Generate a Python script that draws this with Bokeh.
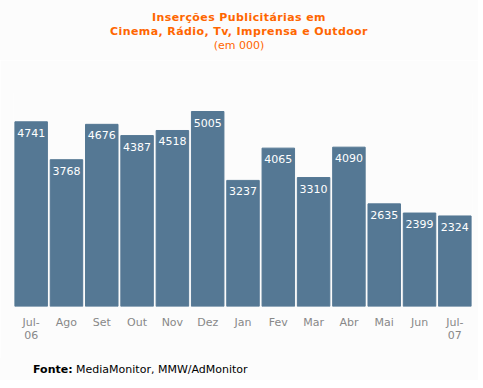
from bokeh.plotting import figure
from bokeh.models import FactorRange, Div
from bokeh.layouts import column
from bokeh.core.properties import value
from bokeh.embed import file_html
from bokeh.resources import INLINE

months = ["Jul-\n06", "Ago", "Set", "Out", "Nov", "Dez", "Jan", "Fev", "Mar", "Abr", "Mai", "Jun", "Jul-\n07"]
insercoes = [4741, 3768, 4676, 4387, 4518, 5005, 3237, 4065, 3310, 4090, 2635, 2399, 2324]
labels = [str(v) for v in insercoes]

title_lines = ["Inserções Publicitárias em", "Cinema, Rádio, Tv, Imprensa e Outdoor", "(em 000)"]
fonte_bold = "Fonte:"
fonte_text = "MediaMonitor, MMW/AdMonitor"

BG = "#fcfcfc"
BAR = "#557894"
ORANGE = "#ff6600"
FONT = "DejaVu Sans"
W = 478

header = Div(
    text=(f'<div style="width:{W - 10}px;padding:11px 0 0 10px;font-family:\'{FONT}\';font-size:11px;'
          f'line-height:14px;color:{ORANGE};text-align:center;">'
          f'<b style="letter-spacing:0.4px">{title_lines[0]}</b><br>'
          f'<b style="letter-spacing:0.4px">{title_lines[1]}</b><br>{title_lines[2]}</div>'),
    width=W, height=60, margin=(0, 0, 0, 0),
    styles={"background-color": BG})

p = figure(x_range=FactorRange(*months, range_padding=0), y_range=(0, 5493),
           width=W, height=298, output_backend="svg", toolbar_location=None,
           y_axis_location=None, min_border_left=13, min_border_right=6,
           min_border_top=32, min_border_bottom=52, margin=(0, 0, 0, 0))
p.background_fill_color = BG
p.border_fill_color = BG
p.outline_line_color = None
p.grid.visible = False

p.vbar(x=months, top=insercoes, width=0.92, color=BAR)
p.text(x=months, y=insercoes, text=labels, text_color="white", text_font=value(FONT),
       text_font_size="11px", text_align="center", text_baseline="middle", y_offset=11)

ax = p.xaxis[0]
ax.axis_line_color = None
ax.major_tick_line_color = None
ax.minor_tick_line_color = None
ax.major_label_text_color = "#888888"
ax.major_label_text_font = FONT
ax.major_label_text_font_size = "11px"
ax.major_label_text_line_height = 1.0
ax.major_label_standoff = 3

footer = Div(
    text=(f'<div style="padding:5px 0 0 33px;font-family:\'{FONT}\';font-size:11px;'
          f'line-height:14px;color:black;"><b>{fonte_bold}</b> {fonte_text}</div>'),
    width=W, height=22, margin=(0, 0, 0, 0),
    styles={"background-color": BG})

layout = column(header, p, footer, spacing=0, margin=(0, 0, 0, 0))

open("out.html", "w").write(file_html(layout, INLINE))
